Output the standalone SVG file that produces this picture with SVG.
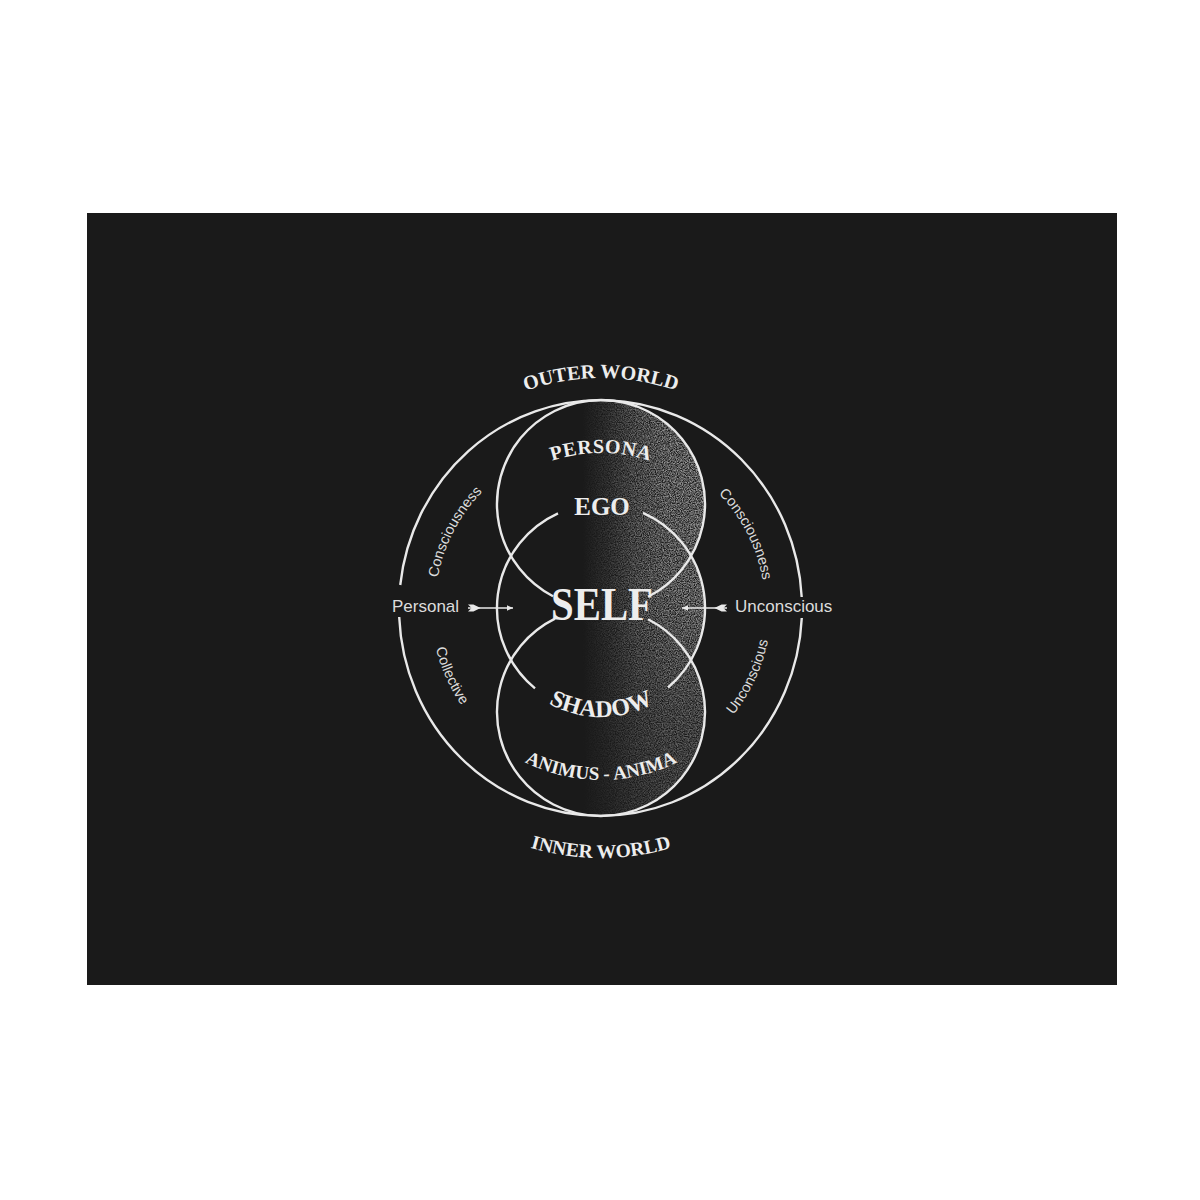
<svg xmlns="http://www.w3.org/2000/svg" width="1200" height="1200" viewBox="0 0 1200 1200">
<style>
.ln{fill:none;stroke:#e9e9e9;stroke-width:2.4}
.big{font-family:"Liberation Serif","DejaVu Serif",serif;font-weight:bold;fill:#ededed}
.lbl{font-family:"Liberation Sans","DejaVu Sans",sans-serif;fill:#dcdcdc}
.shaft{stroke:#e9e9e9;stroke-width:1.6;fill:none}
</style>
<defs>
<clipPath id="spheres">
<circle cx="601" cy="504" r="104"/>
<circle cx="601" cy="608" r="104"/>
<circle cx="601" cy="712" r="104"/>
</clipPath>
<linearGradient id="gH" x1="582" y1="0" x2="705" y2="0" gradientUnits="userSpaceOnUse">
<stop offset="0" stop-color="#000"/>
<stop offset="0.2" stop-color="#2a2a2a"/>
<stop offset="0.45" stop-color="#707070"/>
<stop offset="0.7" stop-color="#9a9a9a"/>
<stop offset="1" stop-color="#a8a8a8"/>
</linearGradient>
<linearGradient id="gV" x1="0" y1="395" x2="0" y2="820" gradientUnits="userSpaceOnUse">
<stop offset="0" stop-color="#000" stop-opacity="0"/>
<stop offset="0.5" stop-color="#000" stop-opacity="0.1"/>
<stop offset="0.75" stop-color="#000" stop-opacity="0.4"/>
<stop offset="1" stop-color="#000" stop-opacity="0.55"/>
</linearGradient>
<mask id="shmask" maskUnits="userSpaceOnUse" x="490" y="395" width="222" height="430">
<rect x="490" y="395" width="222" height="430" fill="url(#gH)"/>
<rect x="490" y="395" width="222" height="430" fill="url(#gV)"/>
</mask>
<filter id="grain" x="490" y="395" width="222" height="430" filterUnits="userSpaceOnUse">
<feTurbulence type="fractalNoise" baseFrequency="0.85" numOctaves="2" seed="7" result="n"/>
<feColorMatrix in="n" type="matrix" values="0 0 0 0 0.8  0 0 0 0 0.8  0 0 0 0 0.8  2.2 0 0 0 -0.6"/>
</filter>
<marker id="head" viewBox="0 0 10 10" refX="10" refY="5" markerWidth="7" markerHeight="6" markerUnits="userSpaceOnUse" orient="auto">
<path d="M0,0.5 L10,5 L0,9.5 z" fill="#e9e9e9"/>
</marker>
<marker id="tail" viewBox="0 0 14 10" refX="0" refY="5" markerWidth="14" markerHeight="9" markerUnits="userSpaceOnUse" orient="auto">
<path d="M0,1 L6,1 L14,5 L6,9 L0,9 L4,5 z" fill="#e9e9e9"/>
</marker>
<path id="p-outer" d="M371,608 A230,230 0 0 1 831,608"/>
<path id="p-inner" d="M351,608 A250,250 0 0 0 851,608"/>
<path id="p-persona" d="M446,608 A155,155 0 0 1 756,608"/>
<path id="p-shadow" d="M492,608 A109,109 0 0 0 710,608"/>
<path id="p-anim" d="M429,608 A172,172 0 0 0 773,608"/>
<path id="p-lc" d="M445.0,664.8 A166,166 0 0 1 558.0,447.7"/>
<path id="p-rc" d="M643.4,449.6 A164,164 0 0 1 754.1,666.8"/>
<path id="p-coll" d="M445.3,539.7 A170,170 0 0 0 549.3,770.0"/>
<path id="p-unc" d="M650.7,770.6 A170,170 0 0 0 757.5,541.6"/>
</defs>

<rect x="0" y="0" width="1200" height="1200" fill="#ffffff"/>
<rect x="87" y="213" width="1030" height="772" fill="#1a1a1a"/>

<g id="texture" clip-path="url(#spheres)">
<g mask="url(#shmask)">
<rect x="490" y="395" width="222" height="430" fill="#fff" filter="url(#grain)"/>
</g>
</g>

<g id="circles">
<path class="ln" d="M400.24,585 A201.5,208 0 0 1 801.7,597"/>
<path class="ln" d="M801.77,618 A201.5,208 0 0 1 399.2,617"/>
<path class="ln" d="M553,596.3 A104,104 0 1 1 648,596.8"/>
<path class="ln" d="M648,619.2 A104,104 0 1 1 555,618.7"/>
<path class="ln" d="M558,513.3 A104,104 0 0 0 535,688.4"/>
<path class="ln" d="M643,512.8 A104,104 0 0 1 668,687.5"/>
</g>

<g id="outer-world"><text class="big" font-size="20"><textPath href="#p-outer" startOffset="50%" text-anchor="middle">OUTER WORLD</textPath></text></g>
<g id="persona"><text class="big" font-size="20" letter-spacing="0.6"><textPath href="#p-persona" startOffset="50%" text-anchor="middle">PERSONA</textPath></text></g>
<g id="ego"><text class="big" x="602" y="515" font-size="25" text-anchor="middle">EGO</text></g>
<g id="self"><text class="big" x="602" y="620" font-size="46" text-anchor="middle" textLength="102" lengthAdjust="spacingAndGlyphs">SELF</text></g>
<g id="shadow"><text class="big" font-size="24"><textPath href="#p-shadow" startOffset="50%" text-anchor="middle">SHADOW</textPath></text></g>
<g id="animus-anima"><text class="big" font-size="19"><textPath href="#p-anim" startOffset="50%" text-anchor="middle">ANIMUS - ANIMA</textPath></text></g>
<g id="inner-world"><text class="big" font-size="19.5"><textPath href="#p-inner" startOffset="50%" text-anchor="middle">INNER WORLD</textPath></text></g>

<g id="personal"><text class="lbl" x="392" y="612" font-size="17">Personal</text></g>
<g id="unconscious"><text class="lbl" x="735" y="612" font-size="17">Unconscious</text></g>
<g id="consciousness-left"><text class="lbl" font-size="14.5"><textPath href="#p-lc" startOffset="50%" text-anchor="middle">Consciousness</textPath></text></g>
<g id="consciousness-right"><text class="lbl" font-size="14.5"><textPath href="#p-rc" startOffset="50%" text-anchor="middle">Consciousness</textPath></text></g>
<g id="collective"><text class="lbl" font-size="14.5"><textPath href="#p-coll" startOffset="50%" text-anchor="middle">Collective</textPath></text></g>
<g id="unconscious-arc"><text class="lbl" font-size="14.5"><textPath href="#p-unc" startOffset="50%" text-anchor="middle">Unconscious</textPath></text></g>

<g id="connectors">
<path class="shaft" d="M468,608 L513,608" marker-start="url(#tail)" marker-end="url(#head)"/>
<path class="shaft" d="M727,608 L682,608" marker-start="url(#tail)" marker-end="url(#head)"/>
</g>
</svg>
